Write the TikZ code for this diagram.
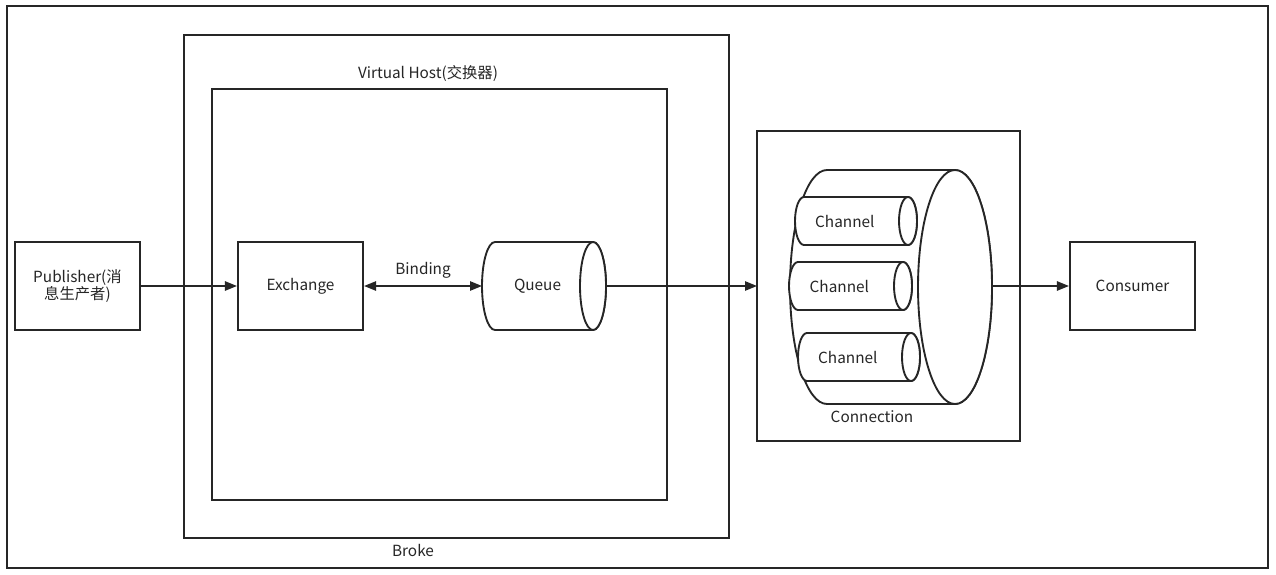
\documentclass[tikz,border=0pt]{standalone}
\usepackage{fontspec}
\setmainfont{Noto Sans CJK SC}
\usetikzlibrary{arrows.meta}
\begin{document}
\begin{tikzpicture}[x=0.75pt,y=-0.75pt,
  box/.style={draw=black!85,line width=1.6pt},
  lbl/.style={font=\fontsize{11.5}{13}\selectfont,text=black!85},
  arr/.style={draw=black!85,line width=1.2pt,-{Triangle[length=9pt,width=7pt]}},
  cyl/.style={draw=black!85,line width=1.4pt,fill=white}]
\newcommand\mycyl[6]{% x1, xr, cy, rx, ry
  \draw[cyl] (#2,#3-#5) -- (#1+#4,#3-#5) arc[start angle=90,end angle=270,x radius=#4*0.75pt,y radius=#5*0.75pt] -- (#2,#3+#5) arc[start angle=270,end angle=450,x radius=#4*0.75pt,y radius=#5*0.75pt];
  \draw[cyl] (#2,#3) ellipse[x radius=#4*0.75pt,y radius=#5*0.75pt];
  \node[lbl] at ({(#1+#2)/2},#3) {#6};}
\useasboundingbox (0,0) rectangle (1276,574);
\fill[white] (0,0) rectangle (1276,574);
\draw[black!85,line width=1.4pt] (7,6) rectangle (1268,568);
\draw[box] (184,35) rectangle (729,538);
\node[lbl] (broke) at (413,550) {Broke};
\draw[box] (212,89) rectangle (667,500);
\node[lbl] (vh) at (428,73) {Virtual Host(交换器)};
\node[box,lbl,minimum width=125*0.75pt,minimum height=88*0.75pt,align=center,inner sep=0pt] (pub) at (77.5,286) {Publisher(消\\息生产者)};
\node[box,lbl,minimum width=125*0.75pt,minimum height=88*0.75pt] (ex) at (300.5,286) {Exchange};
\node[box,lbl,minimum width=125*0.75pt,minimum height=88*0.75pt] (con) at (1132.5,286) {Consumer};
\mycyl{482}{593}{286}{13}{44}{Queue}
\coordinate (qL) at (482,286);
\coordinate (qR) at (606,286);
\draw[box] (757,131) rectangle (1020,441);
\coordinate (cL) at (757,286);
\node[lbl] (conn) at (872,417) {Connection};
\mycyl{790}{955}{287}{37}{117}{}
\coordinate (bR) at (992,286);
\mycyl{795}{908}{221}{9}{24}{\hspace{-10pt}Channel}
\mycyl{789}{903}{286}{9}{24}{\hspace{-10pt}Channel}
\mycyl{798}{911}{357}{9}{24}{\hspace{-10pt}Channel}
\draw[arr] (pub) -- (ex);
\draw[arr,{Triangle[length=9pt,width=7pt]}-{Triangle[length=9pt,width=7pt]}] (ex) -- node[lbl,above=2pt] (bind) {Binding} (qL);
\draw[arr] (qR) -- (cL);
\draw[arr] (bR) -- (con);
\end{tikzpicture}
\end{document}
